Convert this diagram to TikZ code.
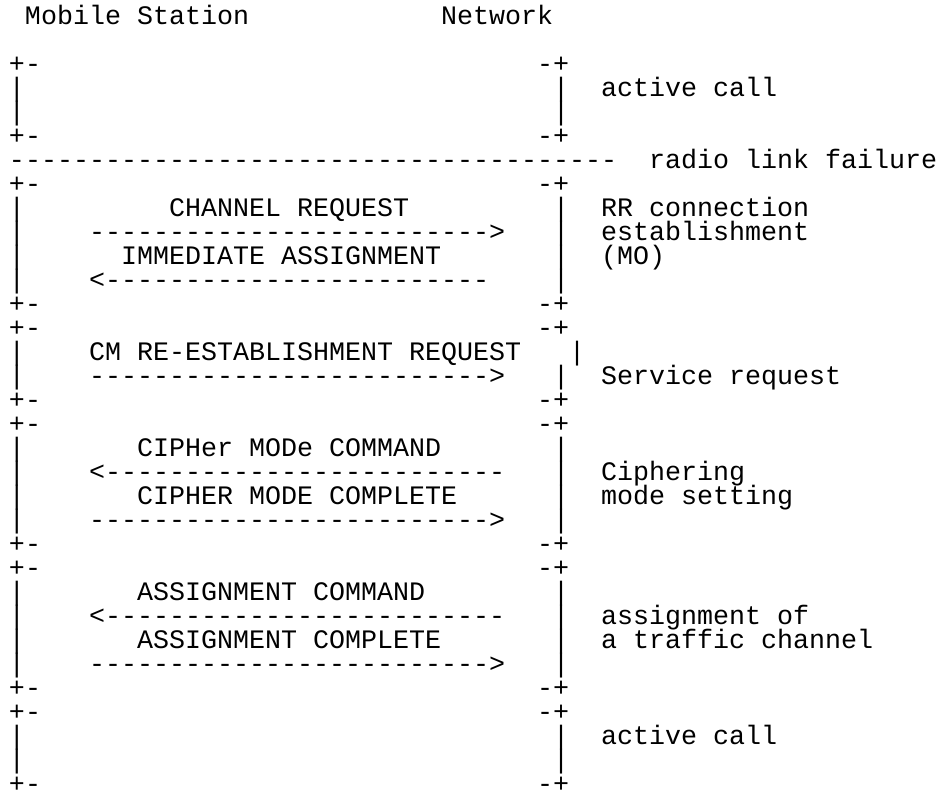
\documentclass[tikz,border=0pt]{standalone}
\usepackage{fontspec}
\setmonofont{Liberation Mono}
\begin{document}
\tikzset{
  txt/.style={anchor=base west, inner sep=0pt, outer sep=0pt,
    font=\ttfamily\fontsize{26.67pt}{24pt}\selectfont, text=black}
}
\begin{tikzpicture}[x=16pt, y=-24pt]
\useasboundingbox (-0.5625,-1.0208) rectangle (58.1875,31.9792);
% header
\node[txt] (ms) at (1,0) {Mobile Station};
\node[txt] (nw) at (27,0) {Network};
% box corners
\foreach \r in {2,5,7,12,13,16,17,22,23,28,29,32} {
  \node[txt] (tl\r) at (0,\r) {+-};
  \node[txt] (tr\r) at (33,\r) {-+};
}
% left bars
\foreach \r in {3,4,8,9,10,11,14,15,18,19,20,21,24,25,26,27,30,31}
  \node[txt] (bl\r) at (0,\r) {|};
% right bars
\foreach \r in {3,4,8,9,10,11,15,18,19,20,21,24,25,26,27,30,31}
  \node[txt] (br\r) at (34,\r) {|};
\node[txt] (br14) at (35,14) {|};
% radio link failure line
\node[txt] (rlf) at (0,6) {--------------------------------------};
\node[txt] (rlft) at (40,6) {radio link failure};
% messages
\node[txt] (m1) at (10,8) {CHANNEL REQUEST};
\node[txt] (a1) at (5,9) {------------------------->};
\node[txt] (m2) at (7,10) {IMMEDIATE ASSIGNMENT};
\node[txt] (a2) at (5,11) {<------------------------};
\node[txt] (m3) at (5,14) {CM RE-ESTABLISHMENT REQUEST};
\node[txt] (a3) at (5,15) {------------------------->};
\node[txt] (m4) at (8,18) {CIPHer MODe COMMAND};
\node[txt] (a4) at (5,19) {<-------------------------};
\node[txt] (m5) at (8,20) {CIPHER MODE COMPLETE};
\node[txt] (a5) at (5,21) {------------------------->};
\node[txt] (m6) at (8,24) {ASSIGNMENT COMMAND};
\node[txt] (a6) at (5,25) {<-------------------------};
\node[txt] (m7) at (8,26) {ASSIGNMENT COMPLETE};
\node[txt] (a7) at (5,27) {------------------------->};
% phase labels
\node[txt] (p1) at (37,3) {active call};
\node[txt] (p2a) at (37,8) {RR connection};
\node[txt] (p2b) at (37,9) {establishment};
\node[txt] (p2c) at (37,10) {(MO)};
\node[txt] (p3) at (37,15) {Service request};
\node[txt] (p4a) at (37,19) {Ciphering};
\node[txt] (p4b) at (37,20) {mode setting};
\node[txt] (p5a) at (37,25) {assignment of};
\node[txt] (p5b) at (37,26) {a traffic channel};
\node[txt] (p6) at (37,30) {active call};
\end{tikzpicture}
\end{document}
